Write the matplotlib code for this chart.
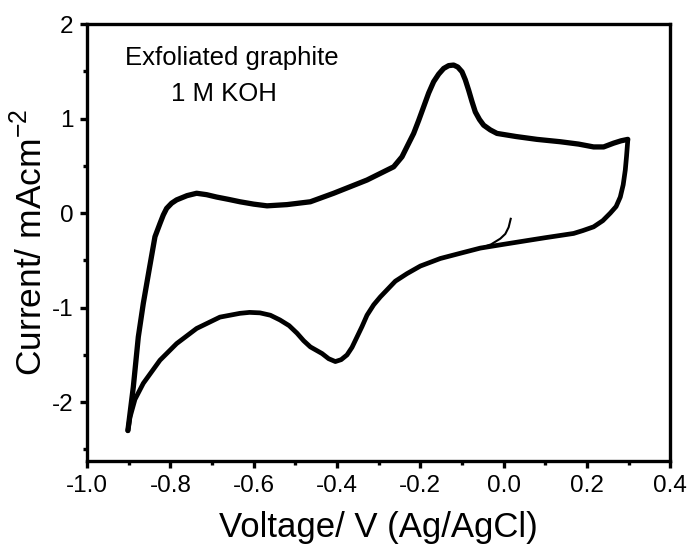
import numpy as np
import matplotlib
matplotlib.use("Agg")
from matplotlib import pyplot as plt
from matplotlib.ticker import MultipleLocator, FormatStrFormatter

# cathodic sweep, 0.3 V -> -0.9 V
cath_v = [0.298, 0.295, 0.292, 0.287, 0.28, 0.27, 0.256, 0.238, 0.216, 0.19, 0.168,
          0.1, 0.064, 0.0, -0.056, -0.1, -0.152, -0.2, -0.232, -0.26, -0.296,
          -0.312, -0.328, -0.34, -0.352, -0.364, -0.376, -0.39, -0.404, -0.42,
          -0.436, -0.45, -0.464, -0.48, -0.496, -0.515, -0.537, -0.56, -0.585,
          -0.61, -0.633, -0.681, -0.737, -0.785, -0.825, -0.865, -0.885, -0.897,
          -0.902]
cath_i = [0.77, 0.6, 0.455, 0.3, 0.17, 0.07, 0.0, -0.08, -0.145, -0.185, -0.215,
          -0.26, -0.285, -0.33, -0.37, -0.42, -0.48, -0.56, -0.64, -0.72, -0.886,
          -0.97, -1.08, -1.2, -1.31, -1.42, -1.50, -1.55, -1.57, -1.54,
          -1.485, -1.45, -1.415, -1.35, -1.27, -1.19, -1.13, -1.08, -1.055,
          -1.05, -1.06, -1.10, -1.22, -1.38, -1.556, -1.80, -1.97, -2.16,
          -2.30]

# anodic sweep, -0.9 V -> 0.3 V
anod_v = [-0.902, -0.889, -0.877, -0.865, -0.851, -0.837, -0.825, -0.817, -0.809,
          -0.797, -0.785, -0.76, -0.737, -0.713, -0.689, -0.66, -0.633, -0.6,
          -0.568, -0.52, -0.464, -0.408, -0.328, -0.264, -0.244, -0.23, -0.216,
          -0.204, -0.192, -0.18, -0.168, -0.156, -0.144, -0.132, -0.12, -0.11,
          -0.1, -0.092, -0.084, -0.076, -0.068, -0.058, -0.048, -0.032, -0.016,
          0.03, 0.08, 0.136, 0.18, 0.216, 0.24, 0.264, 0.282, 0.298]
anod_i = [-2.30, -1.84, -1.31, -0.955, -0.60, -0.25, -0.11, -0.02, 0.05,
          0.105, 0.14, 0.185, 0.21, 0.195, 0.17, 0.145, 0.12, 0.095,
          0.077, 0.09, 0.12, 0.21, 0.35, 0.49, 0.596, 0.72, 0.843,
          0.98, 1.125, 1.27, 1.39, 1.47, 1.53, 1.56, 1.566, 1.545,
          1.495, 1.41, 1.30, 1.18, 1.07, 0.99, 0.93, 0.88, 0.843,
          0.81, 0.78, 0.755, 0.73, 0.70, 0.70, 0.74, 0.765, 0.78]

# first scan, starting at open circuit
tail_v = [0.017, 0.012, 0.004, -0.008, -0.03, -0.056]
tail_i = [-0.06, -0.15, -0.22, -0.27, -0.33, -0.37]

plt.rcParams['font.family'] = ['Liberation Sans', 'DejaVu Sans']
plt.rcParams['mathtext.fontset'] = 'custom'
plt.rcParams['mathtext.rm'] = 'Liberation Sans'
plt.rcParams['axes.unicode_minus'] = False

fig = plt.figure(figsize=(6.91, 5.46), dpi=100)
ax = fig.add_axes([0.126, 0.156, 0.844, 0.800])

ax.plot(cath_v, cath_i, color='black', lw=3.4, solid_joinstyle='round', solid_capstyle='round')
ax.plot(anod_v, anod_i, color='black', lw=3.8, solid_joinstyle='round', solid_capstyle='round')
ax.plot(tail_v, tail_i, color='black', lw=1.5)

ax.set_xlim(-1.0, 0.4)
ax.set_ylim(-2.62, 2.0)
ax.xaxis.set_major_locator(MultipleLocator(0.2))
ax.xaxis.set_minor_locator(MultipleLocator(0.1))
ax.yaxis.set_major_locator(MultipleLocator(1))
ax.yaxis.set_minor_locator(MultipleLocator(0.5))
ax.xaxis.set_major_formatter(FormatStrFormatter('%.1f'))

for s in ax.spines.values():
    s.set_linewidth(2.4)
ax.tick_params(which='major', direction='out', length=5, width=2.4, labelsize=17.5, pad=5)
ax.tick_params(which='minor', direction='out', length=3, width=2.4)

ax.set_xlabel('Voltage/ V (Ag/AgCl)', fontsize=25, labelpad=10)
ax.set_ylabel('Current/ mAcm$^{\\mathregular{-2}}$', fontsize=25.5, labelpad=2)

ax.text(-0.653, 1.64, 'Exfoliated graphite', fontsize=18.5, ha='center', va='center')
ax.text(-0.671, 1.26, '1 M KOH', fontsize=18.5, ha='center', va='center')

fig.savefig('out.png', dpi=100)
